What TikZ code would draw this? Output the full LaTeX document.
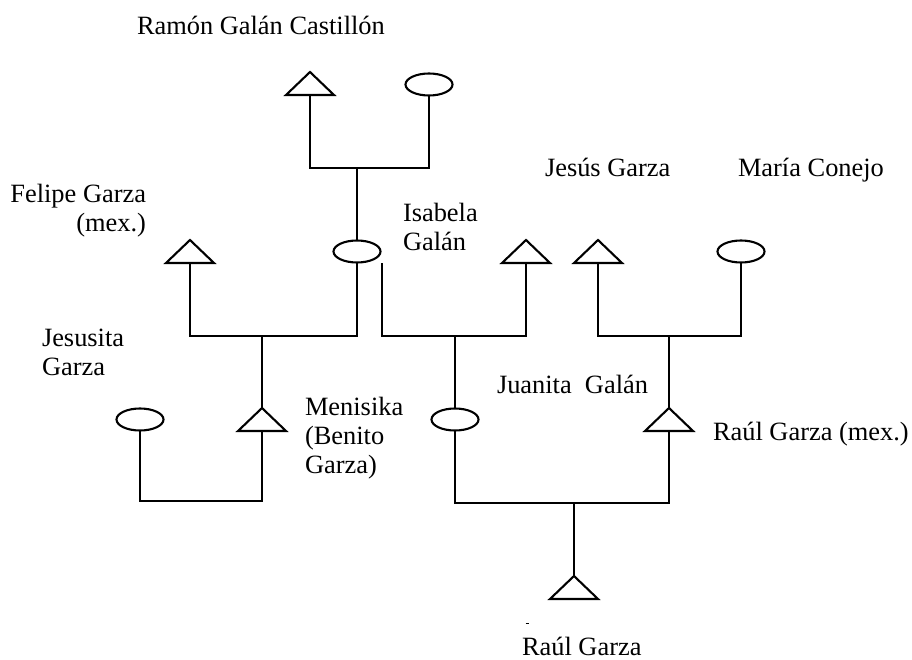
\documentclass[tikz,border=0pt]{standalone}
\usepackage{fontspec}
\setmainfont{Liberation Serif}
\usetikzlibrary{shapes.geometric}
\begin{document}
\begin{tikzpicture}[x=1pt,y=-1pt,
  kin/.style={line width=2.1pt, line join=miter},
  thinkin/.style={line width=1.1pt},
  male/.style={minimum width=48pt, minimum height=23pt, inner sep=0pt, outer sep=0pt},
  female/.style={ellipse, draw, line width=2.1pt, minimum width=47pt, minimum height=22pt, inner sep=0pt, outer sep=0pt},
  lbl/.style={inner sep=0pt, outer sep=0pt, font=\fontsize{26.4}{29}\selectfont},
]
\useasboundingbox (0,0) rectangle (912,660);

% individuals: men are triangles, women are ellipses
\node[male]   (ramon)    at (310,83.5)  {};
\node[female] (rwife)    at (429,84.5)  {};
\node[male]   (felipe)   at (190,251.5) {};
\node[female] (isabela)  at (357,251.5) {};
\node[male]   (ihusband) at (526,251.5) {};
\node[male]   (jesus)    at (598,251.5) {};
\node[female] (maria)    at (741,251.5) {};
\node[female] (jesusita) at (140,419.5) {};
\node[male]   (menisika) at (262,419.5) {};
\node[female] (juanita)  at (455,419.5) {};
\node[male]   (raulmex)  at (669,419.5) {};
\node[male]   (raul)     at (574,587.5) {};

\foreach \n in {ramon,felipe,ihusband,jesus,menisika,raulmex,raul}
  \draw[kin] (\n.south west) -- (\n.north) -- (\n.south east) -- cycle;

% sibship bars and descent lines
\coordinate (b1) at (357,168);
\coordinate (b2) at (262,336);
\coordinate (isa2) at (382,263);
\coordinate (b3) at (455,336);
\coordinate (b4) at (669,336);
\coordinate (b4k) at (669,360);
\coordinate (b5) at (200,501);
\coordinate (b6) at (574,503);

\draw[kin] (ramon.south) |- (b1) -| (rwife.south);
\draw[kin] (b1) -- (isabela.north);

\draw[kin] (felipe.south) |- (b2) -| (isabela.south);
\draw[kin] (b2) -- (menisika.north);

\draw[kin] (isa2) |- (b3) -| (ihusband.south);
\draw[kin] (b3) -- (juanita.north);

\draw[kin] (jesus.south) |- (b4) -| (maria.south);
\draw[kin] (b4) -- (b4k);
\draw[thinkin] (b4k) -- (raulmex.north);

\draw[kin] (jesusita.south) |- (b5) -| (menisika.south);

\draw[kin] (juanita.south) |- (b6) -| (raulmex.south);
\draw[kin] (b6) -- (raul.north);

% names (multi-line labels are placed by the baseline of their last line)
\node[lbl, anchor=base west] (tramon) at (137,35) {Ramón Galán Castillón};
\node[lbl, anchor=base east, align=right] (tfelipe) at (146,232) {Felipe Garza\\(mex.)};
\node[lbl, anchor=base west, align=left] (tisabela) at (403,251) {Isabela\\Galán};
\node[lbl, anchor=base west] (tjesus) at (545,177) {Jesús Garza};
\node[lbl, anchor=base west] (tmaria) at (738,177) {María Conejo};
\node[lbl, anchor=base west, align=left] (tjesusita) at (42,375) {Jesusita\\Garza};
\node[lbl, anchor=base west, align=left] (tmenisika) at (305,473) {Menisika\\(Benito\\Garza)};
\node[lbl, anchor=base west] (tjuanita) at (497,393) {Juanita\ \ Galán};
\node[lbl, anchor=base west] (traulmex) at (713,440) {Raúl Garza (mex.)};
\node[lbl, anchor=base west] (traul) at (522,655) {Raúl Garza};

% stray mark above the last name
\coordinate (m1) at (525.5,623);
\coordinate (m2) at (528.5,623);
\draw[line width=1pt] (m1) -- (m2);
\end{tikzpicture}
\end{document}
